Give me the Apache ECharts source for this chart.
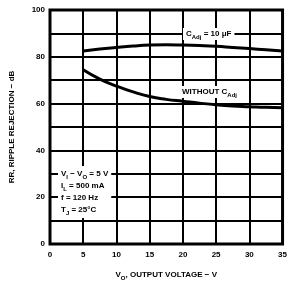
<!DOCTYPE html>
<html><head><meta charset="utf-8">
<script src="https://cdn.jsdelivr.net/npm/echarts@6/dist/echarts.min.js"></script>
<style>html,body{margin:0;padding:0;background:#fff}#c{width:290px;height:286px}</style>
</head><body><div id="c"></div>
<script>
var voltsWith = [5, 7.5, 10, 12.5, 15, 17.5, 20, 22.5, 25, 27.5, 30, 32.5, 35];
var rrWith = [82.5, 83.3, 84, 84.6, 85, 85.1, 85, 84.8, 84.5, 84, 83.5, 83, 82.5];
var voltsWithout = [5, 7.5, 10, 12.5, 15, 17.5, 20, 22.5, 25, 27.5, 30, 32.5, 35];
var rrWithout = [74.5, 70.5, 67.5, 65, 63, 61.8, 61, 60.2, 59.5, 59, 58.7, 58.4, 58.2];
var xTicks = [0, 5, 10, 15, 20, 25, 30, 35];
var yTicks = [0, 20, 40, 60, 80, 100];

var F = 'Liberation Sans';
var chart = echarts.init(document.getElementById('c'));
function pairs(x, y) { return x.map(function (v, i) { return [v, y[i]]; }); }
var sub = { fontSize: 6, fontWeight: 'bold', fontFamily: F, color: '#000', verticalAlign: 'bottom', padding: [0, 0, -2, 0] };
var base = { fontSize: 8, fontWeight: 'bold', fontFamily: F, color: '#000' };
chart.setOption({
  animation: false,
  grid: { left: 45, right: 7, top: 10, bottom: 37, show: true, borderColor: '#000', borderWidth: 3 },
  xAxis: {
    type: 'value', min: 0, max: 35, interval: 5,
    axisLine: { show: false }, axisTick: { show: false },
    splitLine: { lineStyle: { color: '#000', width: 2 } },
    axisLabel: { margin: 7, color: '#000', fontFamily: F, fontWeight: 'bold', fontSize: 8,
      formatter: function (v) { return xTicks.indexOf(v) >= 0 ? String(v) : ''; } },
    name: '{b|V}{s|O}{b|, OUTPUT VOLTAGE − V}', nameLocation: 'middle', nameGap: 27,
    nameTextStyle: { rich: { b: base, s: sub } }
  },
  yAxis: {
    type: 'value', min: 0, max: 100, interval: 10,
    axisLine: { show: false }, axisTick: { show: false },
    splitLine: { lineStyle: { color: '#000', width: 2 } },
    axisLabel: { margin: 5, color: '#000', fontFamily: F, fontWeight: 'bold', fontSize: 8,
      formatter: function (v) { return yTicks.indexOf(v) >= 0 ? String(v) : ''; } },
    name: 'RR, RIPPLE REJECTION − dB', nameLocation: 'middle', nameGap: 34,
    nameTextStyle: { color: '#000', fontFamily: F, fontWeight: 'bold', fontSize: 8 }
  },
  series: [
    { type: 'line', data: pairs(voltsWith, rrWith), smooth: true, showSymbol: false,
      lineStyle: { color: '#000', width: 3 } },
    { type: 'line', data: pairs(voltsWithout, rrWithout), smooth: true, showSymbol: false,
      lineStyle: { color: '#000', width: 3 } }
  ],
  graphic: [
    { type: 'text', left: 183, top: 28, z: 100, style: {
      rich: { b: base, s: sub }, text: '{b|C}{s|Adj}{b| = 10 μF}', backgroundColor: '#fff', padding: [2, 3] } },
    { type: 'text', left: 180, top: 86, z: 100, style: {
      rich: { b: base, s: sub }, text: '{b|WITHOUT C}{s|Adj}', backgroundColor: '#fff', padding: [2, 2] } },
    { type: 'text', left: 58, top: 166, z: 100, style: {
      rich: { b: { fontSize: 8, fontWeight: 'bold', fontFamily: F, color: '#000', lineHeight: 12 }, s: { fontSize: 6, fontWeight: 'bold', fontFamily: F, color: '#000', lineHeight: 12, verticalAlign: 'bottom' } },
      text: '{b|V}{s|I}{b| − V}{s|O}{b| = 5 V}\n{b|I}{s|L}{b| = 500 mA}\n{b|f = 120 Hz}\n{b|T}{s|J}{b| = 25°C}',
      backgroundColor: '#fff', padding: [2, 3] } }
  ]
});
</script></body></html>
